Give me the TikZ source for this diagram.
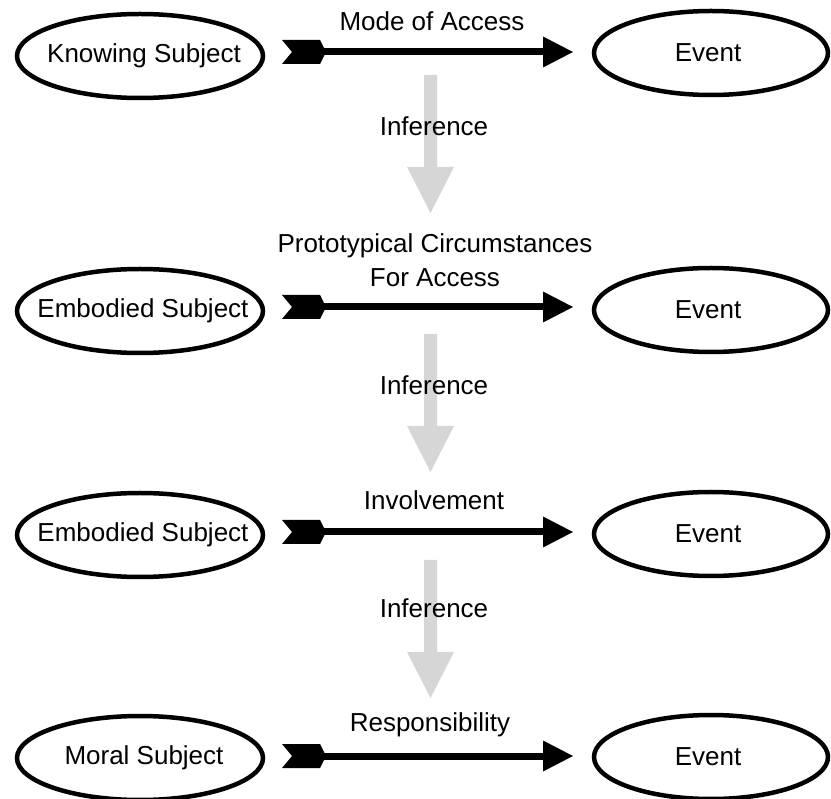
\documentclass[tikz,border=0pt]{standalone}
\usepackage{fontspec}
\setmainfont{Liberation Sans}
\usetikzlibrary{shapes.geometric}
\definecolor{infgray}{RGB}{214,214,214}
\tikzset{
  subj/.style={draw, ellipse, line width=4.5pt, inner sep=0pt, minimum width=246pt, minimum height=84pt},
  evt/.style={subj, minimum width=234pt},
  lab/.style={font=\fontsize{26}{34}\selectfont, inner sep=0pt, align=center},
  shaftline/.style={line width=7pt},
}
\newcommand\accessarrow[2]{%
  \fill[shift={(#1)}] (0,-12) -- (38,-12) -- (44,0) -- (38,12) -- (0,12) -- (10,0) -- cycle;
  \draw[shaftline] ([xshift=40pt]#1) -- ([xshift=-28pt]#2);
  \fill[shift={(#2)}] (0,0) -- (-30,-15.5) -- (-30,15.5) -- cycle;}
\newcommand\infarrow[1]{%
  \fill[infgray, shift={(#1)}] (-6.5,0) -- (6.5,0) -- (6.5,92) -- (23.5,92) -- (0,138) -- (-23.5,92) -- (-6.5,92) -- cycle;}
\begin{document}
\begin{tikzpicture}[x=1pt,y=-1pt]
\useasboundingbox (0,0) rectangle (831,799);
% gray inference arrows (behind text)
\coordinate (g1) at (430.5,75);
\coordinate (g2) at (430.5,334);
\coordinate (g3) at (430.5,560);
\infarrow{g1}
\infarrow{g2}
\infarrow{g3}
\node[lab] (inf1) at (434,126) {Inference};
\node[lab] (inf2) at (434,385) {Inference};
\node[lab] (inf3) at (434,608) {Inference};
% row 1
\node[subj] (s1) at (140,56) {};
\node[lab] (s1t) at ([xshift=4pt]s1.center) {Knowing Subject};
\node[evt] (e1) at (711,53) {};
\node[lab] (e1t) at ([xshift=-3pt]e1.center) {Event};
\coordinate (t1) at (282,52);
\coordinate (h1) at (573,52);
\accessarrow{t1}{h1}
\node[lab] (l1) at (432,21) {Mode of Access};
% row 2
\node[subj] (s2) at (140,311) {};
\node[lab] (s2t) at ([xshift=3pt]s2.center) {Embodied Subject};
\node[evt] (e2) at (711,310) {};
\node[lab] (e2t) at ([xshift=-3pt]e2.center) {Event};
\coordinate (t2) at (282,307);
\coordinate (h2) at (573,307);
\accessarrow{t2}{h2}
\node[lab] (l2) at (435,260) {Prototypical Circumstances\\For Access};
% row 3
\node[subj] (s3) at (140,535) {};
\node[lab] (s3t) at ([xshift=3pt]s3.center) {Embodied Subject};
\node[evt] (e3) at (711,534) {};
\node[lab] (e3t) at ([xshift=-3pt]e3.center) {Event};
\coordinate (t3) at (282,532);
\coordinate (h3) at (573,532);
\accessarrow{t3}{h3}
\node[lab] (l3) at (434,500) {Involvement};
% row 4
\node[subj] (s4) at (140,758) {};
\node[lab] (s4t) at ([xshift=4pt]s4.center) {Moral Subject};
\node[evt] (e4) at (711,757) {};
\node[lab] (e4t) at ([xshift=-3pt]e4.center) {Event};
\coordinate (t4) at (282,756);
\coordinate (h4) at (573,756);
\accessarrow{t4}{h4}
\node[lab] (l4) at (430,725) {Responsibility};
\end{tikzpicture}
\end{document}
